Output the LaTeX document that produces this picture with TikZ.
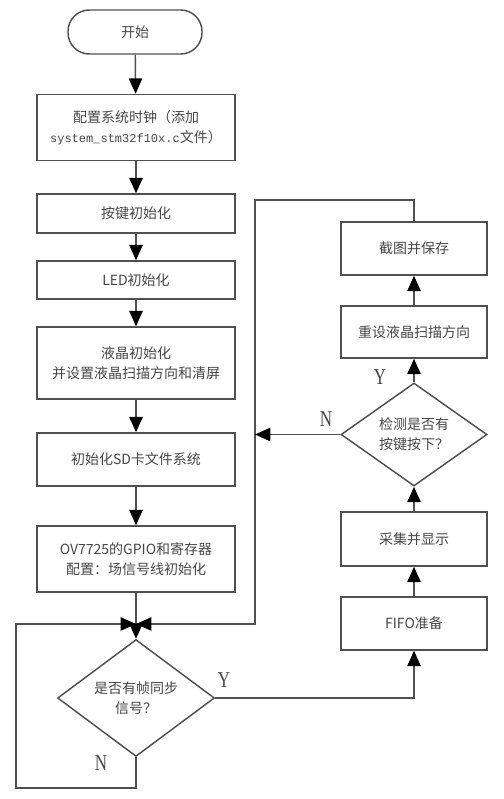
\documentclass[tikz,border=0pt]{standalone}
\usepackage{fontspec}
\setmainfont{Noto Sans CJK SC}
\setmonofont{Liberation Mono}
\newfontfamily\yesnofont{Liberation Serif}
\usepackage{tikz}
\usetikzlibrary{arrows.meta,shapes.geometric}
\definecolor{linegray}{RGB}{80,80,80}
\definecolor{textgray}{RGB}{70,70,70}

\begin{document}
\begin{tikzpicture}[x=0.75pt,y=0.75pt,yscale=-1,xscale=1,
    font=\fontsize{10.5}{15}\selectfont,
    every node/.style={text=textgray},
    box/.style={draw=linegray,line width=1.1pt,minimum width=148.5pt,align=center,inner sep=0.75pt},
    rbox/.style={draw=linegray,line width=1.1pt,minimum width=109.5pt,minimum height=39.75pt,align=center,inner sep=0.75pt},
    decide/.style={draw=linegray,line width=1.1pt,diamond,inner sep=0pt,align=center},
    line/.style={draw=linegray,line width=1.1pt},
    arr/.style={line,-{Triangle[length=11.5pt,width=10pt,color=black]}},
    yn/.style={font=\yesnofont\fontsize{17}{17}\selectfont,xscale=0.75,inner sep=0.75pt}]
    \useasboundingbox (0,0) rectangle (503,799);

    %Shape: Terminal [id:start]
    \node [draw=linegray,line width=1.1pt,rounded corners=16pt,minimum width=100.5pt,minimum height=33pt] (start) at (135,32) {开始};

    % Left column boxes
    \node [box,minimum height=49.5pt] (clk) at (136,127.5) {配置系统时钟（添加\\{\ttfamily\fontsize{9}{15}\selectfont system\_stm32f10x.c}文件）};
    \node [box,minimum height=29.25pt] (key) at (136,213.5) {按键初始化};
    \node [box,minimum height=28.5pt] (led) at (136,280) {LED初始化};
    \node [box,minimum height=54pt] (lcd) at (136,363) {液晶初始化\\并设置液晶扫描方向和清屏};
    \node [box,minimum height=39.75pt] (sd) at (136,459.5) {初始化SD卡文件系统};
    \node [box,minimum height=49.5pt] (ov) at (136,559) {OV7725的GPIO和寄存器\\配置：场信号线初始化};
    \coordinate (jn) at (136,624);
    \node [decide,minimum width=117.75pt,minimum height=70.5pt] (vsync) at (136,698) {是否有帧同步\\信号？};

    % Right column boxes
    \node [rbox] (shot) at (414,248.5) {截图并保存};
    \node [rbox,minimum height=39pt] (scan) at (414,332) {重设液晶扫描方向};
    \node [decide,minimum width=109.5pt,minimum height=72.75pt] (press) at (414,434.5) {检测是否有\\按键按下？};
    \node [rbox,minimum height=40.5pt] (disp) at (414,539) {采集并显示};
    \node [rbox] (fifo) at (414,623.5) {FIFO准备};

    % Corner points
    \coordinate (nbot) at (136,788);
    \coordinate (nleft) at (16,788);
    \coordinate (ntop) at (16,624);
    \coordinate (yturn) at (414,698);
    \coordinate (rtop) at (414,200);
    \coordinate (ltop) at (255,200);
    \coordinate (lbot) at (255,624);
    \coordinate (nmid) at (255,434.5);

    % Arrows
    \draw [arr] (start) -- (clk);
    \draw [arr] (clk) -- (key);
    \draw [arr] (key) -- (led);
    \draw [arr] (led) -- (lcd);
    \draw [arr] (lcd) -- (sd);
    \draw [arr] (sd) -- (ov);
    \draw [line] (ov) -- (jn);
    \draw [arr] (jn) -- (vsync);
    \draw [arr] (vsync.south) -- (nbot) -- (nleft) -- (ntop) -- (jn);
    \draw [arr] (vsync.east) -- (yturn) -- (fifo.south);
    \draw [arr] (fifo) -- (disp);
    \draw [arr] (disp) -- (press);
    \draw [arr] (press) -- (scan);
    \draw [arr] (scan) -- (shot);
    \draw [arr] (shot.north) -- (rtop) -- (ltop) -- (lbot) -- (jn);
    \draw [arr] (press.west) -- (nmid);

    % Text Node
    \node [yn] (y1) at (224,680) {Y};
    % Text Node
    \node [yn] (n1) at (101,763) {N};
    % Text Node
    \node [yn] (y2) at (380,377) {Y};
    % Text Node
    \node [yn] (n2) at (326,419) {N};

\end{tikzpicture}
\end{document}
